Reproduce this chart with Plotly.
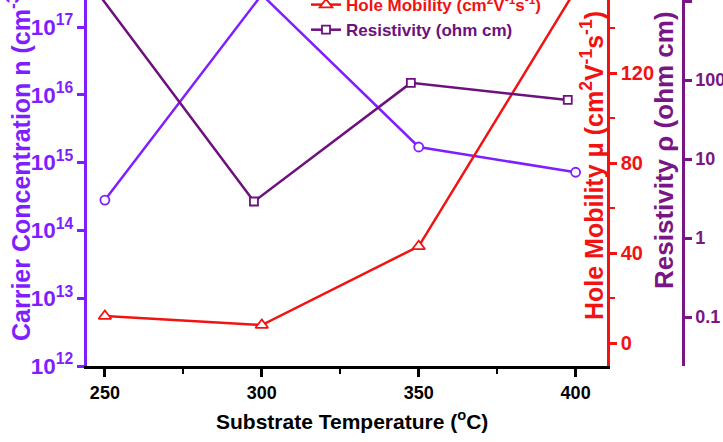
import plotly.graph_objects as go

# Substrate temperature (degC)
temperature = [250, 300, 350, 400]
# Resistivity samples were plotted with a small horizontal offset
temperature_rho = [247.5, 297.5, 347.5, 397.5]

carrier_conc = [2.8e14, 3.0e17, 1.7e15, 7.2e14]      # cm^-3
hole_mobility = [12, 8, 43, 157]                     # cm^2 V^-1 s^-1
resistivity = [1300, 2.9, 92, 56]                    # ohm cm

x_ticks = [250, 300, 350, 400]
rho_tickvals = [0.1, 1, 10, 100, 1000]
rho_ticktext = ["0.1", "1", "10", "100", "1000"]

VIOLET = "#7F1FFF"
RED = "#F21212"
PURPLE = "#6E107E"
PURPLE_AX = "#7A1585"
FONT = "Arial"

W, H = 723, 442
ML, MB = 87, 76
PW, PH = W - ML, H - MB
X_END = (607 - ML) / PW
RHO_POS = (683 - ML) / PW

fig = go.Figure()

fig.add_trace(go.Scatter(
    x=temperature, y=carrier_conc, yaxis="y", name="<span style='color:%s'>Carrier Concentration n (cm<sup>-3</sup>)</span>" % VIOLET,
    mode="lines+markers", line=dict(color=VIOLET, width=2.5),
    marker=dict(symbol="circle", size=9, color="white", line=dict(color=VIOLET, width=1.8)),
))
fig.add_trace(go.Scatter(
    x=temperature, y=hole_mobility, yaxis="y2", name="<span style='color:%s'>Hole Mobility (cm<sup>2</sup>V<sup>-1</sup>s<sup>-1</sup>)</span>" % RED,
    mode="lines+markers", line=dict(color=RED, width=2.5),
    marker=dict(symbol="triangle-up", size=11, color="white", line=dict(color=RED, width=1.8)),
))
fig.add_trace(go.Scatter(
    x=temperature_rho, y=resistivity, yaxis="y3", name="<span style='color:%s'>Resistivity (ohm cm)</span>" % PURPLE,
    mode="lines+markers", line=dict(color=PURPLE, width=2.5),
    marker=dict(symbol="square", size=8, color="white", line=dict(color=PURPLE, width=1.8)),
))


def bold(color, size):
    return dict(family=FONT, size=size, color=color, weight="bold")


fig.update_layout(
    width=W, height=H,
    margin=dict(l=ML, r=0, t=0, b=MB, autoexpand=False),
    plot_bgcolor="white", paper_bgcolor="white",
    showlegend=True,
    legend=dict(
        x=(306 - ML) / PW, y=1.104, xanchor="left", yanchor="top",
        bgcolor="rgba(0,0,0,0)", borderwidth=0,
        font=bold("black", 17),
        tracegroupgap=0,
    ),
    xaxis=dict(
        domain=[0, X_END], range=[244.3, 410],
        tickvals=x_ticks, ticks="outside", ticklen=8, tickwidth=2.5, tickcolor="black",
        minor=dict(dtick=25, tick0=250, ticks="outside", ticklen=5, tickwidth=2, tickcolor="black"),
        showline=True, linecolor="black", linewidth=3, showgrid=False, zeroline=False,
        tickfont=bold("black", 18),
    ),
    yaxis=dict(
        type="log", range=[12, 12 + PH / 67.8], dtick=1,
        exponentformat="power", showexponent="all",
        ticks="outside", ticklen=7, tickwidth=2.5, tickcolor=VIOLET,
        showline=True, linecolor=VIOLET, linewidth=3, showgrid=False, zeroline=False,
        tickfont=bold(VIOLET, 18),
    ),
    yaxis2=dict(
        overlaying="y", side="right", anchor="x",
        range=[-10.2, -10.2 + PH * 40 / 90], tickvals=[0, 40, 80, 120], ticks="outside",
        ticklen=7, tickwidth=2.5, tickcolor=RED,
        minor=dict(dtick=20, tick0=0, ticks="outside", ticklen=5, tickwidth=2, tickcolor=RED),
        showline=True, linecolor=RED, linewidth=2.5, showgrid=False, zeroline=False,
        tickfont=bold(RED, 20),
    ),
    yaxis3=dict(
        overlaying="y", side="right", anchor="free", position=RHO_POS,
        type="log", range=[-1.62, -1.62 + PH / 79.0],
        tickvals=rho_tickvals, ticktext=rho_ticktext, ticks="outside",
        ticklen=7, tickwidth=2.5, tickcolor=PURPLE_AX,
        showline=True, linecolor=PURPLE_AX, linewidth=2.5, showgrid=False, zeroline=False,
        tickfont=bold(PURPLE_AX, 18),
    ),
)


def px_x(px):
    return (px - ML) / PW


def px_y(py):
    return (PH - py) / PH


titles = [
    ("Carrier Concentration n (cm<sup>-3</sup>)", VIOLET, 25, 19, 163, -90),
    ("Hole Mobility \u03bc (cm<sup>2</sup>V<sup>-1</sup>s<sup>-1</sup>)", RED, 25, 592, 166, -90),
    ("Resistivity \u03c1 (ohm cm)", PURPLE_AX, 26, 664, 150, -90),
    ("Substrate Temperature (<sup>o</sup>C)", "black", 21, 352, 420, 0),
]
for text, color, size, cx, cy, ang in titles:
    fig.add_annotation(
        text=text, xref="paper", yref="paper", x=px_x(cx), y=px_y(cy),
        xanchor="center", yanchor="middle", showarrow=False, textangle=ang,
        font=bold(color, size),
    )

fig.write_html("out.html")
